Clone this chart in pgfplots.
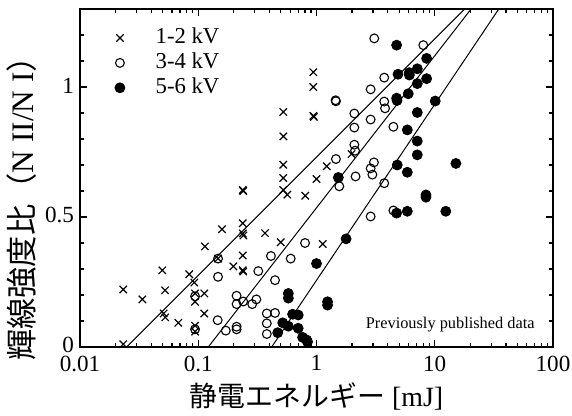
\documentclass[border=0pt]{standalone}
\usepackage{fontspec}
\setmainfont{Liberation Serif}
\newfontfamily\cjk{Noto Sans CJK JP}
\usepackage{pgfplots}
\pgfplotsset{compat=1.18}
\pgfplotsset{mymk/.style={only marks, legend image code/.code={\draw[##1] plot coordinates {(0.28cm,0cm)};\path[draw=none,fill=none] (0cm,0cm) (0.78cm,0cm);}}}
\begin{document}
\begin{tikzpicture}
\useasboundingbox (-40bp,-34.5bp) rectangle (246bp,173.5bp);
\begin{axis}[
  scale only axis, width=236.5bp, height=169bp,
  xmode=log, log basis x=10,
  xmin=0.01, xmax=100, ymin=0, ymax=1.3,
  xtick={0.01,0.1,1,10,100}, xticklabels={0.01,0.1,1,10,100},
  minor xtick={0.02,0.03,0.04,0.05,0.06,0.07,0.08,0.09,0.2,0.3,0.4,0.5,0.6,0.7,0.8,0.9,2,3,4,5,6,7,8,9,20,30,40,50,60,70,80,90},
  ytick={0,0.5,1}, yticklabels={0,0.5,1},
  minor ytick={0.1,0.2,0.3,0.4,0.6,0.7,0.8,0.9,1.1,1.2},
  tick align=inside, major tick length=3.5bp, minor tick length=2bp,
  every tick/.style={line width=0.6bp, black},
  axis line style={line width=0.75bp},
  ticklabel style={font=\fontsize{11.6}{13}\selectfont},
  xticklabel style={yshift=-0.8bp},
  yticklabel style={xshift=0.5bp, yshift=0.8bp},
  /pgf/number format/assume math mode=true,
  xlabel={{\cjk 静電エネルギー} [mJ]},
  ylabel={{\cjk 輝線強度比（}N II/N I{\cjk ）}},
  label style={font=\fontsize{14}{16}\selectfont},
  xlabel style={at={(axis description cs:0.5,-0.145)}, anchor=center},
  ylabel style={at={(axis description cs:-0.1226,0.432)}, anchor=center, font=\fontsize{15.7}{17}\selectfont},
  legend style={draw=none, fill=none, inner sep=0pt, at={(rel axis cs:0.05,0.95)}, anchor=north west, font=\fontsize{11.4}{13}\selectfont, nodes={font=\fontsize{11.4}{13}\selectfont, inner xsep=3.7bp, inner ysep=0.5bp, text height=8bp, text depth=2.7bp}, row sep=0.75bp},
  legend cell align=left,
]
\addplot[black, line width=0.5bp, forget plot] coordinates {(0.0248,0) (17.9,1.3)};
\addplot[black, line width=0.5bp, forget plot] coordinates {(0.1216,0) (20.3,1.3)};
\addplot[black, line width=0.5bp, forget plot] coordinates {(0.418,0) (34.8,1.3)};
\addplot[mymk, mark=x, mark size=2.6bp, black, mark options={line width=0.6bp}] coordinates {
(0.0232,0.221) (0.0232,0.011) (0.0337,0.183) (0.0497,0.295) (0.0524,0.218)
(0.051,0.129) (0.0526,0.114) (0.0678,0.093) (0.084,0.280) (0.0927,0.248)
(0.094,0.206) (0.094,0.174) (0.094,0.082) (0.094,0.059) (0.1125,0.206)
(0.1125,0.129) (0.114,0.387) (0.159,0.453) (0.147,0.340) (0.198,0.310)
(0.238,0.476) (0.238,0.437) (0.241,0.429) (0.238,0.604) (0.240,0.600)
(0.238,0.352) (0.238,0.295) (0.240,0.290) (0.367,0.438) (0.498,0.403)
(0.524,0.904) (0.524,0.810) (0.524,0.701) (0.524,0.650) (0.524,0.604)
(0.566,0.586) (0.803,0.582) (1.0,0.646) (0.94,1.057) (0.94,1.0)
(0.94,0.889) (0.95,0.885) (1.22,0.695) (1.98,0.742) (1.13,0.396)
};
\addlegendentry{1-2 kV}
\addplot[mymk, mark=o, mark size=2.2bp, black, mark options={line width=0.55bp}] coordinates {
(0.094,0.195) (0.094,0.068) (0.146,0.103) (0.147,0.340) (0.147,0.270)
(0.171,0.063) (0.211,0.078) (0.211,0.068) (0.211,0.197) (0.211,0.165)
(0.24,0.175) (0.286,0.165) (0.31,0.183) (0.322,0.292) (0.412,0.350)
(0.446,0.257) (0.38,0.129) (0.446,0.131) (0.38,0.091) (0.38,0.050)
(0.605,0.340) (0.80,0.400) (2.09,0.778) (2.12,0.755) (1.46,0.723)
(1.56,0.618) (2.14,0.656) (3.06,0.710) (2.87,0.687) (2.97,0.663)
(3.74,0.630) (2.87,0.502) (4.47,0.525) (3.08,1.187) (8.0,1.161)
(3.74,1.036) (2.87,0.991) (1.45,0.949) (1.46,0.945) (3.74,0.944)
(3.8,0.918) (2.09,0.898) (2.87,0.875) (2.09,0.844) (4.47,0.847)
};
\addlegendentry{3-4 kV}
\addplot[mymk, mark=*, mark size=2.5bp, black] coordinates {
(4.76,1.161) (8.54,1.110) (4.89,1.049) (6.09,1.055) (6.1,1.046)
(7.12,1.070) (7.12,1.013) (8.54,1.032) (4.76,0.957) (4.8,0.948)
(5.97,0.974) (10.1,0.946) (7.12,0.902) (5.86,0.835) (7.12,0.792)
(7.12,0.739) (4.82,0.700) (5.86,0.672) (15.1,0.706) (8.43,0.585)
(8.43,0.576) (4.76,0.515) (5.86,0.522) (12.4,0.522) (1.53,0.652)
(1.78,0.416) (1.0,0.321) (1.24,0.174) (1.24,0.161) (0.578,0.206)
(0.578,0.188) (0.628,0.126) (0.701,0.123) (0.518,0.093) (0.578,0.080)
(0.70,0.072) (0.470,0.055) (0.763,0.037) (0.826,0.027) (0.84,0.020)
};
\addlegendentry{5-6 kV}
\node[anchor=east, font=\fontsize{8.2}{9}\selectfont, inner sep=0pt] at (rel axis cs:0.962,0.065) {Previously published data};
\end{axis}
\end{tikzpicture}
\end{document}
